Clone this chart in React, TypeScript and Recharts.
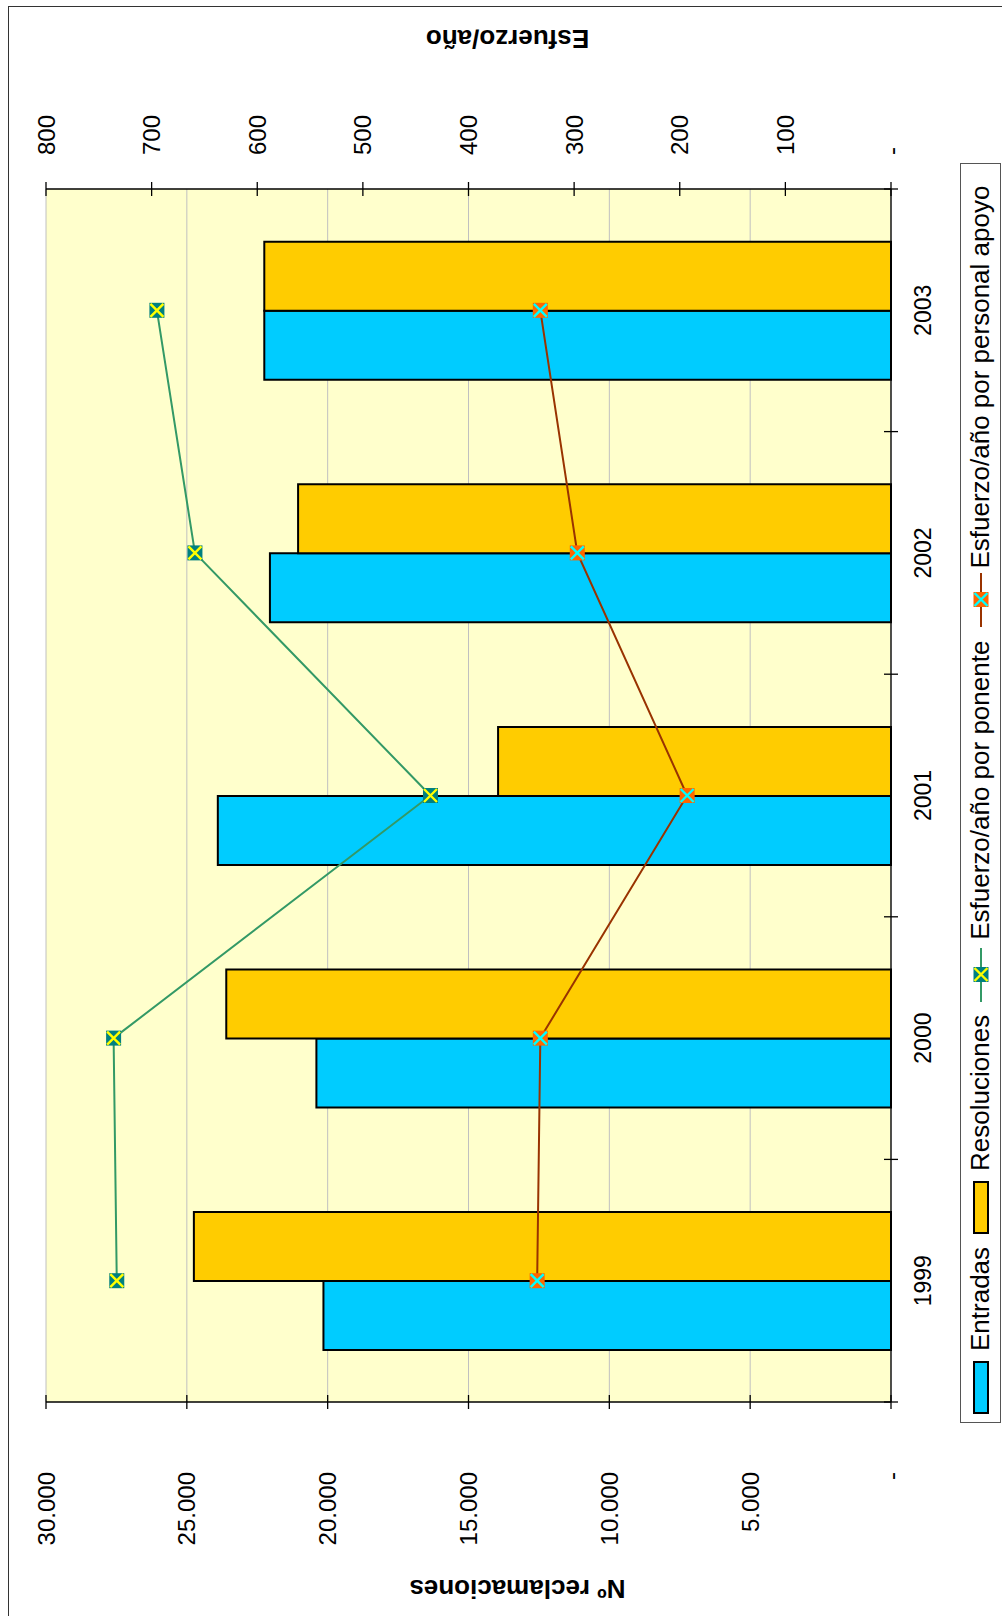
import React from 'react';
import { ComposedChart, Bar, Line, XAxis, YAxis, CartesianGrid, Legend } from 'recharts';

const years = ['1999', '2000', '2001', '2002', '2003'];
const entradas = [20150, 20400, 23900, 22050, 22250];
const resoluciones = [24750, 23600, 13950, 21050, 22250];
const esfuerzoPonente = [733, 736, 436, 659, 695];
const esfuerzoApoyo = [335, 332, 193, 297, 332];
const primaryTicks = [0, 5000, 10000, 15000, 20000, 25000, 30000];
const secondaryTicks = [0, 100, 200, 300, 400, 500, 600, 700, 800];

const seriesNames = {
  entradas: 'Entradas',
  resoluciones: 'Resoluciones',
  ponente: 'Esfuerzo/año por ponente',
  apoyo: 'Esfuerzo/año por personal apoyo',
};

const data = years.map((year, i) => ({
  year,
  entradas: entradas[i],
  resoluciones: resoluciones[i],
  ponente: esfuerzoPonente[i],
  apoyo: esfuerzoApoyo[i],
}));

const W = 1616;
const H = 1002;
const FONT = '"Liberation Sans", Arial, Helvetica, sans-serif';
const BLUE = '#00CCFF';
const YELLOW = '#FFCC00';
const GREEN = '#339966';
const BROWN = '#993300';

const fmt = (v: number) => (v === 0 ? '-' : String(v).replace(/\B(?=(\d{3})+(?!\d))/g, '.'));

const LeftTick = (props: any) => {
  const { x, y, payload } = props;
  return (
    <g>
      <line x1={x - 7} x2={x + 7} y1={y} y2={y} stroke="#000" strokeWidth={1.3} />
      <text x={x - 70} y={y} textAnchor="end" dominantBaseline="central" fontFamily={FONT} fontSize={24} fill="#000">
        {fmt(payload.value)}
      </text>
    </g>
  );
};

const RightTick = (props: any) => {
  const { x, y, payload } = props;
  return (
    <g>
      <line x1={x - 7} x2={x + 7} y1={y} y2={y} stroke="#000" strokeWidth={1.3} />
      <text x={x + 34} y={y} textAnchor="start" dominantBaseline="central" fontFamily={FONT} fontSize={24} fill="#000">
        {fmt(payload.value)}
      </text>
    </g>
  );
};

const CatTick = (props: any) => {
  const { x, y, payload, index } = props;
  const off = payload && payload.offset ? payload.offset : 0;
  return (
    <g>
      <line x1={x - off} x2={x - off} y1={y - 7} y2={y + 7} stroke="#000" strokeWidth={1.3} />
      {index === years.length - 1 ? (
        <line x1={x + off} x2={x + off} y1={y - 7} y2={y + 7} stroke="#000" strokeWidth={1.3} />
      ) : null}
      <text x={x} y={y + 32} textAnchor="middle" dominantBaseline="central" fontFamily={FONT} fontSize={23} fill="#000">
        {payload.value}
      </text>
    </g>
  );
};

const makeDot = (fill: string, cross: string) => (props: any) => {
  const { cx, cy, index } = props;
  if (cx == null || cy == null) return <g key={`d-${index}`} />;
  const s = 7.5;
  return (
    <g key={`d-${fill}-${index}`}>
      <rect x={cx - s} y={cy - s} width={2 * s} height={2 * s} fill={fill} />
      <path
        d={`M${cx - s + 1},${cy - s + 1}L${cx + s - 1},${cy + s - 1}M${cx + s - 1},${cy - s + 1}L${cx - s + 1},${cy + s - 1}`}
        stroke={cross}
        strokeWidth={2.4}
      />
    </g>
  );
};

const LegendLineIcon = ({ color, fill, cross }: { color: string; fill: string; cross: string }) => (
  <svg width={54} height={20} style={{ display: 'block' }}>
    <line x1={0} x2={54} y1={10} y2={10} stroke={color} strokeWidth={2} />
    <rect x={20} y={2.5} width={15} height={15} fill={fill} />
    <path d="M21,3.5L34,16.5M34,3.5L21,16.5" stroke={cross} strokeWidth={2.4} />
  </svg>
);

const LegendContent = () => (
  <div
    style={{
      boxSizing: 'border-box',
      width: '100%',
      height: '100%',
      border: '1.3px solid #555',
      background: '#fff',
      display: 'flex',
      alignItems: 'center',
      paddingLeft: 8,
      fontFamily: FONT,
      fontSize: 26,
      color: '#000',
      whiteSpace: 'nowrap',
    }}
  >
    <div style={{ width: 53, height: 16, background: BLUE, border: '2px solid #000', boxSizing: 'border-box' }} />
    <span style={{ marginLeft: 10 }}>{seriesNames.entradas}</span>
    <div style={{ marginLeft: 13, width: 53, height: 16, background: YELLOW, border: '2px solid #000', boxSizing: 'border-box' }} />
    <span style={{ marginLeft: 10 }}>{seriesNames.resoluciones}</span>
    <div style={{ marginLeft: 13 }}>
      <LegendLineIcon color={GREEN} fill="#008080" cross="#FFFF00" />
    </div>
    <span style={{ marginLeft: 8 }}>{seriesNames.ponente}</span>
    <div style={{ marginLeft: 14 }}>
      <LegendLineIcon color={BROWN} fill="#FF6600" cross="#00FFFF" />
    </div>
    <span style={{ marginLeft: 4 }}>{seriesNames.apoyo}</span>
  </div>
);

const LeftTitle = (props: any) => {
  const vb = props.viewBox || {};
  const cx = vb.x + 27;
  const cy = vb.y + vb.height / 2 + 49;
  return (
    <text x={cx} y={cy} transform={`rotate(-90 ${cx} ${cy})`} textAnchor="middle" dominantBaseline="central" fontFamily={FONT} fontWeight="bold" fontSize={26} fill="#000">
      Nº reclamaciones
    </text>
  );
};

const RightTitle = (props: any) => {
  const vb = props.viewBox || {};
  const cx = vb.x + (1577 - (W - 189));
  const cy = vb.y + vb.height / 2 + 39;
  return (
    <text x={cx} y={cy} transform={`rotate(-90 ${cx} ${cy})`} textAnchor="middle" dominantBaseline="central" fontFamily={FONT} fontWeight="bold" fontSize={26} fill="#000">
      Esfuerzo/año
    </text>
  );
};

export default function App() {
  return (
    <div style={{ position: 'absolute', left: 0, top: 0, width: 1002, height: 1616, overflow: 'hidden', background: '#fff' }}>
      <div
        style={{
          position: 'absolute',
          left: 8,
          top: 6,
          width: 1100,
          height: 1700,
          borderLeft: '1.3px solid #333',
          borderTop: '1.3px solid #333',
        }}
      />
      <div
        style={{
          position: 'absolute',
          left: 0,
          top: 0,
          width: W,
          height: H,
          transformOrigin: '0 0',
          transform: `translate(0px, ${W}px) rotate(-90deg)`,
        }}
      >
        <ComposedChart
          width={W}
          height={H}
          data={data}
          margin={{ top: 46, right: 0, bottom: 0, left: 0 }}
          barCategoryGap="21.4%"
          barGap={0}
        >
          <CartesianGrid yAxisId="left" vertical={false} stroke="#C0C0C0" fill="#FFFFCC" />
          <XAxis
            dataKey="year"
            height={111}
            axisLine={{ stroke: '#000', strokeWidth: 1.3 }}
            tickLine={false}
            tickSize={0}
            tickMargin={0}
            tick={<CatTick />}
            interval={0}
          />
          <YAxis
            yAxisId="left"
            orientation="left"
            width={214}
            domain={[0, 30000]}
            ticks={primaryTicks}
            interval={0}
            axisLine={{ stroke: '#000', strokeWidth: 1.3 }}
            tickLine={false}
            tickSize={0}
            tickMargin={0}
            tick={<LeftTick />}
            label={<LeftTitle />}
          />
          <YAxis
            yAxisId="right"
            orientation="right"
            width={189}
            domain={[0, 800]}
            ticks={secondaryTicks}
            interval={0}
            axisLine={{ stroke: '#000', strokeWidth: 1.3 }}
            tickLine={false}
            tickSize={0}
            tickMargin={0}
            tick={<RightTick />}
            label={<RightTitle />}
          />
          <Legend
            layout="horizontal"
            verticalAlign="middle"
            align="center"
            content={<LegendContent />}
            wrapperStyle={{ left: 193, top: 960, width: 1260, height: 41, bottom: 'auto', right: 'auto' }}
          />
          <Bar yAxisId="left" dataKey="entradas" name={seriesNames.entradas} fill={BLUE} stroke="#000" strokeWidth={2} isAnimationActive={false} />
          <Bar yAxisId="left" dataKey="resoluciones" name={seriesNames.resoluciones} fill={YELLOW} stroke="#000" strokeWidth={2} isAnimationActive={false} />
          <Line
            yAxisId="right"
            type="linear"
            dataKey="ponente"
            name={seriesNames.ponente}
            stroke={GREEN}
            strokeWidth={2}
            dot={makeDot('#008080', '#FFFF00')}
            activeDot={false}
            isAnimationActive={false}
          />
          <Line
            yAxisId="right"
            type="linear"
            dataKey="apoyo"
            name={seriesNames.apoyo}
            stroke={BROWN}
            strokeWidth={2}
            dot={makeDot('#FF6600', '#00FFFF')}
            activeDot={false}
            isAnimationActive={false}
          />
        </ComposedChart>
      </div>
    </div>
  );
}
